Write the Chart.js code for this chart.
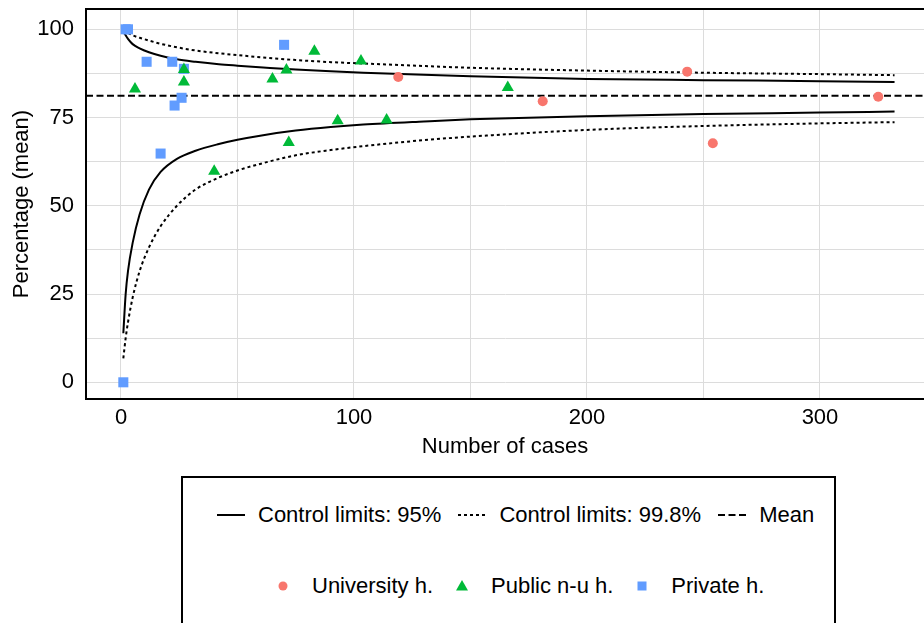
<!DOCTYPE html>
<html lang="en">
<head>
<meta charset="utf-8">
<title>Funnel plot</title>
<script src="https://cdn.jsdelivr.net/npm/chart.js@4.4.1/dist/chart.umd.min.js"></script>
<style>
  html, body { margin: 0; padding: 0; background: #fff; }
  body { width: 924px; height: 623px; overflow: hidden; position: relative; font-family: "Liberation Sans", Arial, sans-serif; }
  #grafico { position: absolute; left: 0; top: 0; }
  #leyenda { position: absolute; left: 181px; top: 476px; width: 655px; height: 190px; border: 2px solid #000; box-sizing: border-box; }
  .fila { position: absolute; height: 30px; display: flex; align-items: center; font-size: 22px; color: #000; white-space: nowrap; }
  #filaLineas { top: 22px; left: 34px; }
  #filaPuntos { top: 93px; left: 86px; }
  .item { display: flex; align-items: center; }
  #filaLineas .item { margin-right: 17px; }
  #filaLineas svg { margin-right: 13px; display: block; }
  #filaPuntos .item { margin-right: 15px; }
  #filaPuntos svg { margin-right: 15px; display: block; }
</style>
</head>
<body>
<canvas id="grafico" width="924" height="470"></canvas>
<div id="leyenda">
  <div class="fila" id="filaLineas"></div>
  <div class="fila" id="filaPuntos"></div>
</div>
<script>
"use strict";
// Hospitales: número de casos y porcentaje medio
const universitariosCasos = [119, 181, 243, 254, 325];
const universitariosPct = [86.5, 79.6, 88.0, 67.7, 80.9];
const publicosCasos = [6, 27, 27, 40, 65, 71, 72, 83, 93, 103, 114, 166];
const publicosPct = [83.1, 88.6, 85.1, 59.8, 85.9, 88.5, 67.9, 93.8, 74.1, 91.0, 74.3, 83.5];
const privadosCasos = [1, 2, 3, 11, 17, 22, 23, 26, 27, 70];
const privadosPct = [0, 100, 100, 90.8, 64.8, 90.8, 78.4, 80.6, 88.8, 95.6];

// Media global y límites de control (embudo)
const media = 81.2;
const limitesN = [1, 2, 3, 5, 8, 12, 17, 24, 32, 42, 50, 61, 75, 90, 104, 130, 150, 200, 250, 300, 332];
const sup95 = [99.5, 98.3, 97.3, 95.8, 94.6, 93.5, 92.5, 91.5, 90.8, 90.1, 89.7, 89.2, 88.6, 88.1, 87.7, 87.1, 86.7, 85.95, 85.6, 85.3, 85.05];
const inf95 = [13.9, 25.0, 31.5, 39.5, 47.6, 54.6, 59.6, 63.3, 65.6, 67.5, 68.7, 70.0, 71.3, 72.3, 73.0, 73.9, 74.5, 75.4, 76.0, 76.4, 76.7];
const sup998 = [100, 99.5, 99.0, 98.3, 97.6, 96.8, 95.9, 94.9, 94.0, 93.2, 92.7, 92.0, 91.3, 90.7, 90.3, 89.6, 89.1, 88.3, 87.7, 87.3, 87.0];
const inf998 = [6.8, 12.5, 17.0, 24.0, 31.5, 38.2, 44.2, 50.0, 54.6, 58.0, 60.0, 62.1, 64.3, 65.8, 66.9, 68.6, 69.6, 71.5, 72.6, 73.35, 73.7];

// Ejes
const xTicks = [0, 50, 100, 150, 200, 250, 300];
const xEtiquetas = ["0", "", "100", "", "200", "", "300"];
const yTicks = [0, 12.5, 25, 37.5, 50, 62.5, 75, 87.5, 100];
const yEtiquetas = ["0", "", "25", "", "50", "", "75", "", "100"];
const xMin = -15.02;
const xMax = 344.64;
const yMin = -4.73;
const yMax = 105.75;

const etiquetasLineas = ["Control limits: 95%", "Control limits: 99.8%", "Mean"];
const etiquetasGrupos = ["University h.", "Public n-u h.", "Private h."];

const ROJO = "#F8766D";
const VERDE = "#00BA38";
const AZUL = "#619CFF";
const GRIS = "#DCDCDC";
const PUNTEADO = [3, 3];
const DISCONTINUO = [7, 3.5];

const aPuntos = (xs, ys) => xs.map((x, i) => ({ x, y: ys[i] }));

function curva(ys, dash, orden) {
    return {
        data: aPuntos(limitesN, ys),
        showLine: true,
        borderColor: "#000",
        borderWidth: 2,
        borderDash: dash,
        pointRadius: 0,
        cubicInterpolationMode: "monotone",
        order: orden
    };
}

// Marco superior del panel (izquierda y abajo los ponen los ejes)
const marcoPanel = {
    id: "marcoPanel",
    afterDatasetsDraw(chart) {
        const { ctx, chartArea } = chart;
        ctx.save();
        ctx.strokeStyle = "#000";
        ctx.lineWidth = 2;
        ctx.beginPath();
        ctx.moveTo(chartArea.left - 1, chartArea.top);
        ctx.lineTo(chartArea.right, chartArea.top);
        ctx.stroke();
        ctx.restore();
    }
};

const fuente = { family: '"Liberation Sans", Arial, sans-serif', size: 22, lineHeight: 1.2 };

const grafico = new Chart(document.getElementById("grafico"), {
    type: "scatter",
    data: {
        datasets: [
            { label: etiquetasGrupos[0], data: aPuntos(universitariosCasos, universitariosPct), pointStyle: "circle", pointRadius: 5, backgroundColor: ROJO, borderWidth: 0, order: 0 },
            { label: etiquetasGrupos[1], data: aPuntos(publicosCasos, publicosPct), pointStyle: "triangle", pointRadius: 7, backgroundColor: VERDE, borderWidth: 0, order: 1 },
            { label: etiquetasGrupos[2], data: aPuntos(privadosCasos, privadosPct), pointStyle: "rect", pointRadius: 7.1, backgroundColor: AZUL, borderWidth: 0, order: 2 },
            Object.assign(curva(sup95, [], 3), { label: etiquetasLineas[0] }),
            Object.assign(curva(inf95, [], 3), { label: etiquetasLineas[0] }),
            Object.assign(curva(sup998, PUNTEADO, 3), { label: etiquetasLineas[1] }),
            Object.assign(curva(inf998, PUNTEADO, 3), { label: etiquetasLineas[1] }),
            {
                label: etiquetasLineas[2],
                data: [{ x: xMin, y: media }, { x: xMax, y: media }],
                showLine: true,
                borderColor: "#000",
                borderWidth: 2,
                borderDash: DISCONTINUO,
                pointRadius: 0,
                order: 3
            }
        ]
    },
    options: {
        responsive: false,
        animation: false,
        events: [],
        devicePixelRatio: 1,
        layout: { autoPadding: false, padding: { top: 9, left: 0, right: 0, bottom: 0 } },
        plugins: { legend: { display: false }, tooltip: { enabled: false } },
        scales: {
            x: {
                type: "linear",
                min: xMin,
                max: xMax,
                afterBuildTicks: (eje) => { eje.ticks = xTicks.map(v => ({ value: v })); },
                afterFit: (eje) => {
                    eje.height = 71;
                    eje.paddingLeft = 0;
                    eje.paddingRight = 0;
                },
                ticks: {
                    autoSkip: false,
                    maxRotation: 0,
                    padding: 6,
                    color: "#000",
                    font: fuente,
                    callback: (valor, i) => xEtiquetas[i]
                },
                grid: { color: GRIS, lineWidth: 1, drawTicks: false },
                border: { display: true, color: "#000", width: 2 },
                title: { display: true, text: "Number of cases", color: "#000", font: fuente, padding: { top: 0, bottom: 10 } }
            },
            y: {
                type: "linear",
                min: yMin,
                max: yMax,
                afterBuildTicks: (eje) => { eje.ticks = yTicks.map(v => ({ value: v })); },
                afterFit: (eje) => {
                    eje.width = 86;
                    eje.paddingTop = 0;
                    eje.paddingBottom = 0;
                },
                ticks: {
                    autoSkip: false,
                    padding: 12,
                    color: "#000",
                    font: fuente,
                    callback: (valor, i) => yEtiquetas[i]
                },
                grid: { color: GRIS, lineWidth: 1, drawTicks: false },
                border: { display: true, color: "#000", width: 2 },
                title: { display: true, text: "Percentage (mean)", color: "#000", font: fuente, padding: { top: 9, bottom: 0 } }
            }
        }
    },
    plugins: [marcoPanel]
});

// Leyenda en HTML, con los mismos estilos que los datasets
const NS = "http://www.w3.org/2000/svg";
function svgClave(ancho, alto) {
    const svg = document.createElementNS(NS, "svg");
    svg.setAttribute("width", ancho);
    svg.setAttribute("height", alto);
    return svg;
}
function claveLinea(dash) {
    const svg = svgClave(28, 10);
    const linea = document.createElementNS(NS, "line");
    linea.setAttribute("x1", 0);
    linea.setAttribute("y1", 5);
    linea.setAttribute("x2", 28);
    linea.setAttribute("y2", 5);
    linea.setAttribute("stroke", "#000");
    linea.setAttribute("stroke-width", 2);
    if (dash.length) linea.setAttribute("stroke-dasharray", dash.join(" "));
    svg.appendChild(linea);
    return svg;
}
function clavePunto(estilo, color) {
    const svg = svgClave(28, 16);
    let forma;
    if (estilo === "circle") {
        forma = document.createElementNS(NS, "circle");
        forma.setAttribute("cx", 14);
        forma.setAttribute("cy", 8);
        forma.setAttribute("r", 4.5);
    } else if (estilo === "triangle") {
        forma = document.createElementNS(NS, "polygon");
        forma.setAttribute("points", "14,2 20,12.5 8,12.5");
    } else {
        forma = document.createElementNS(NS, "rect");
        forma.setAttribute("x", 9.5);
        forma.setAttribute("y", 3.5);
        forma.setAttribute("width", 9);
        forma.setAttribute("height", 9);
    }
    forma.setAttribute("fill", color);
    svg.appendChild(forma);
    return svg;
}
function agregarItem(fila, clave, texto) {
    const item = document.createElement("span");
    item.classList.add("item");
    item.appendChild(clave);
    item.append(texto);
    fila.appendChild(item);
}

const filaLineas = document.getElementById("filaLineas");
const filaPuntos = document.getElementById("filaPuntos");
[[], PUNTEADO, DISCONTINUO].forEach((dash, i) => agregarItem(filaLineas, claveLinea(dash), etiquetasLineas[i]));
grafico.data.datasets.slice(0, 3).forEach((ds, i) => agregarItem(filaPuntos, clavePunto(ds.pointStyle, ds.backgroundColor), etiquetasGrupos[i]));
</script>
</body>
</html>
